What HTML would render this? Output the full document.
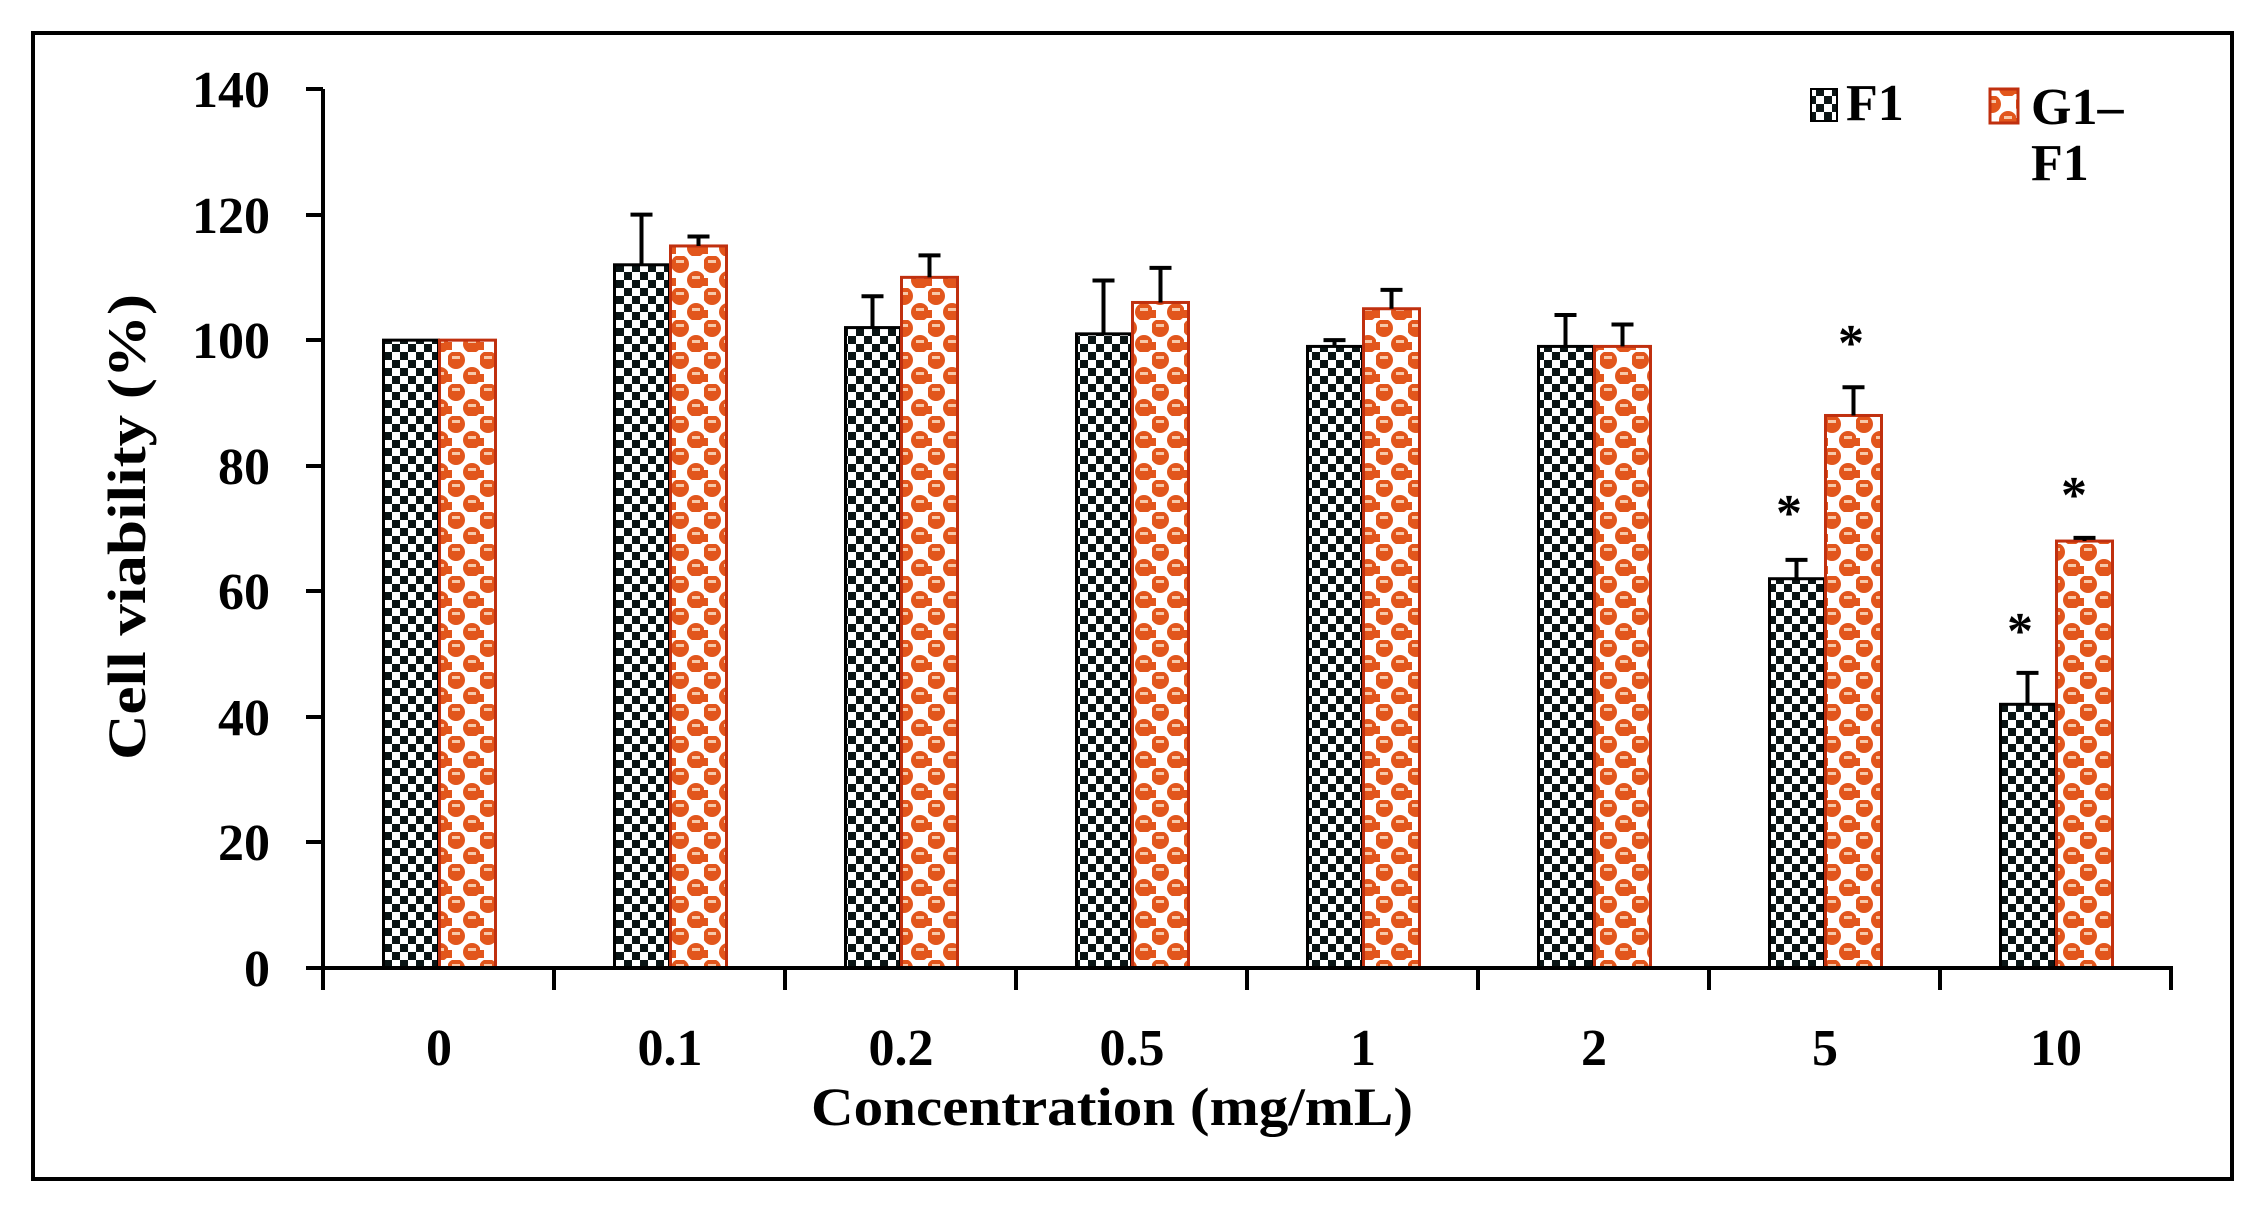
<!DOCTYPE html>
<html><head><meta charset="utf-8"><style>
html,body{margin:0;padding:0;background:#fff;}
svg{display:block;}
text{font-family:"Liberation Serif",serif;font-weight:bold;fill:#000;}
</style></head><body>
<svg width="2262" height="1208" viewBox="0 0 2262 1208" xmlns="http://www.w3.org/2000/svg">
<defs>
<pattern id="chk" width="16" height="16" patternUnits="userSpaceOnUse">
<rect width="16" height="16" fill="#fff"/>
<rect x="0" y="0" width="8" height="8" fill="#0a1414"/>
<rect x="8" y="8" width="8" height="8" fill="#0a1414"/>
</pattern>
<pattern id="org" width="32" height="32" patternUnits="userSpaceOnUse">
<rect width="32" height="32" fill="#fff"/>
<circle cx="8" cy="8" r="9" fill="#e2561c"/>
<circle cx="24" cy="24" r="9" fill="#e2561c"/>
<rect x="4" y="4" width="8" height="3" fill="#f7c8a8"/>
<rect x="20" y="20" width="8" height="3" fill="#f7c8a8"/>
<rect x="0" y="22" width="4" height="8" fill="#e2561c"/>
<rect x="28" y="22" width="4" height="8" fill="#e2561c"/>
</pattern>
</defs>
<rect x="33" y="33" width="2199" height="1146" fill="none" stroke="#000" stroke-width="4"/>
<g id="bars"></g>
<line x1="323" y1="89" x2="323" y2="970" stroke="#000" stroke-width="4"/>
<line x1="321" y1="968" x2="2173" y2="968" stroke="#000" stroke-width="4"/>
<g stroke="#000" stroke-width="4">
<line x1="306" y1="968" x2="323" y2="968"/><line x1="306" y1="842" x2="323" y2="842"/>
<line x1="306" y1="717" x2="323" y2="717"/><line x1="306" y1="591" x2="323" y2="591"/>
<line x1="306" y1="466" x2="323" y2="466"/><line x1="306" y1="340" x2="323" y2="340"/>
<line x1="306" y1="215" x2="323" y2="215"/><line x1="306" y1="89" x2="323" y2="89"/>
<line x1="323" y1="968" x2="323" y2="990"/><line x1="554" y1="968" x2="554" y2="990"/>
<line x1="785" y1="968" x2="785" y2="990"/><line x1="1016" y1="968" x2="1016" y2="990"/>
<line x1="1247" y1="968" x2="1247" y2="990"/><line x1="1478" y1="968" x2="1478" y2="990"/>
<line x1="1709" y1="968" x2="1709" y2="990"/><line x1="1940" y1="968" x2="1940" y2="990"/>
<line x1="2171" y1="968" x2="2171" y2="990"/>
</g>
<g font-size="52" text-anchor="end">
<text x="270" y="986">0</text><text x="270" y="860">20</text><text x="270" y="735">40</text>
<text x="270" y="609">60</text><text x="270" y="484">80</text><text x="270" y="358">100</text>
<text x="270" y="233">120</text><text x="270" y="107">140</text>
</g>
<g font-size="52" text-anchor="middle">
<text x="439" y="1065">0</text><text x="670" y="1065">0.1</text><text x="901" y="1065">0.2</text>
<text x="1132" y="1065">0.5</text><text x="1363" y="1065">1</text><text x="1594" y="1065">2</text>
<text x="1825" y="1065">5</text><text x="2056" y="1065">10</text>
</g>
<text x="811" y="1125" font-size="54" textLength="602" lengthAdjust="spacingAndGlyphs">Concentration (mg/mL)</text>
<text transform="translate(145,760) rotate(-90)" font-size="54" textLength="466" lengthAdjust="spacingAndGlyphs">Cell viability (%)</text>
<g font-size="52" text-anchor="middle">
<text x="1789" y="530">*</text><text x="1851" y="360">*</text>
<text x="2020" y="648">*</text><text x="2074" y="512">*</text>
</g>
<rect x="1811" y="89" width="26" height="32" fill="url(#chk)" stroke="#000" stroke-width="2"/>
<text x="1846" y="120" font-size="52">F1</text>
<rect x="1990" y="89" width="28" height="34" fill="url(#org)" stroke="#c0300f" stroke-width="3"/>
<text x="2031" y="124" font-size="52">G1–</text>
<text x="2031" y="180" font-size="52">F1</text>
<script>
var F=[100,112,102,101,99,99,62,42],Fe=[0,8,5,8.5,1,5,3,5];
var G=[100,115,110,106,105,99,88,68],Ge=[0,1.5,3.5,5.5,3,3.5,4.5,0.5];
var g=document.getElementById('bars'),ns='http://www.w3.org/2000/svg';
function y(v){return 968-v*6.2786;}
function el(t,a){var e=document.createElementNS(ns,t);for(var k in a)e.setAttribute(k,a[k]);g.appendChild(e);}
for(var i=0;i<8;i++){var c=323+231*(i+0.5);
 var x1=c-55,x2=c+1;
 el('rect',{x:x1,y:y(F[i]),width:55,height:968-y(F[i]),fill:'url(#chk)',stroke:'#000','stroke-width':3});
 el('rect',{x:x2,y:y(G[i]),width:56,height:968-y(G[i]),fill:'url(#org)',stroke:'#c0300f','stroke-width':3});
 var fx=x1+27,gx=x2+28;
 if(Fe[i]>0){el('line',{x1:fx,y1:y(F[i]),x2:fx,y2:y(F[i]+Fe[i]),stroke:'#000','stroke-width':4});
  el('line',{x1:fx-11,y1:y(F[i]+Fe[i]),x2:fx+11,y2:y(F[i]+Fe[i]),stroke:'#000','stroke-width':4});}
 if(Ge[i]>0){el('line',{x1:gx,y1:y(G[i]),x2:gx,y2:y(G[i]+Ge[i]),stroke:'#000','stroke-width':4});
  el('line',{x1:gx-11,y1:y(G[i]+Ge[i]),x2:gx+11,y2:y(G[i]+Ge[i]),stroke:'#000','stroke-width':4});}
}
</script>
</svg>
</body></html>
